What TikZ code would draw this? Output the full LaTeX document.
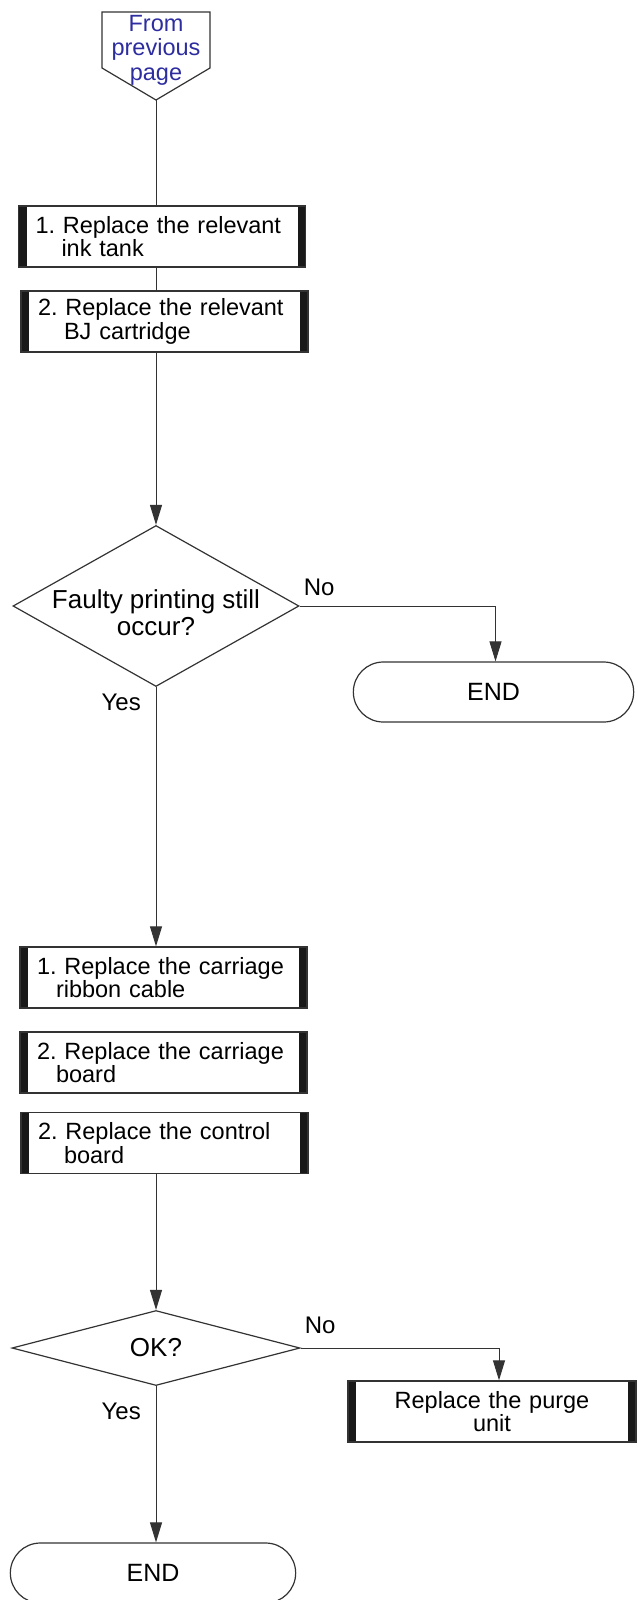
\documentclass[tikz,border=0pt]{standalone}
\usepackage{fontspec}
\setmainfont{Liberation Sans}
\frenchspacing
\definecolor{prevblue}{RGB}{45,45,160}
\usetikzlibrary{arrows.meta,positioning,shapes.geometric,shapes.misc}

\begin{document}
\begin{tikzpicture}[x=1pt,y=-1pt,>={Triangle[length=20pt,width=12pt]},
  line/.style={draw=black!80,line width=1pt},
  procbox/.style={draw=black!80,line width=1.3pt,minimum width=287pt,minimum height=61pt,
        text width=253pt,inner xsep=17pt,align=left,font=\fontsize{23.5}{23.5}\selectfont,
        path picture={\fill[black!90] (path picture bounding box.north west) rectangle ([xshift=8pt]path picture bounding box.south west);
                      \fill[black!90] (path picture bounding box.north east) rectangle ([xshift=-8pt]path picture bounding box.south east);}},
  decision/.style={diamond,draw=black!80,line width=1.2pt,inner sep=0pt,align=center,font=\fontsize{26}{27}\selectfont},
  terminal/.style={rounded rectangle,draw=black!80,line width=1.2pt,minimum height=60pt,font=\fontsize{25}{25}\selectfont},
  lbl/.style={inner sep=0pt,font=\fontsize{24}{24}\selectfont}]
  \useasboundingbox (0,0) rectangle (637,1600);

  \node[align=center,inner sep=0pt,text=prevblue,font=\fontsize{23.5}{24.5}\selectfont]
        (prev) at (156,50) {From\\previous\\page};
  \draw[draw=black!80,line width=1.2pt] (102,12) -- (210,12) -- (210,68) -- (156,100) coordinate (prevtip) -- (102,68) -- cycle;

  \node[procbox] (tank) at (162,236.5) {1. Replace the relevant\\\hspace*{26pt}ink tank};
  \node[procbox] (cart) at (164.5,321.5) {2. Replace the relevant\\\hspace*{26pt}BJ cartridge};

  \node[decision,aspect=1.8,minimum width=286pt,minimum height=161pt]
        (faulty) at (156,606) {\rule{0pt}{32pt}\makebox[150pt]{Faulty printing still}\\occur?};
  \node[terminal,minimum width=287pt] (end1) at (493.5,692) {END};
  \node[lbl,above right=10.4pt and 4pt of faulty.east] (no1) {No};
  \node[lbl,below left=7pt and 15pt of faulty.south] (yes1) {Yes};

  \node[procbox] (ribbon) at (163.5,977.5) {1. Replace the carriage\\\hspace*{19pt}ribbon cable};
  \node[procbox] (cboard) at (163.5,1062.5) {2. Replace the carriage\\\hspace*{19pt}board};
  \node[procbox] (ctrl) at (164.5,1143) {2. Replace the control\\\hspace*{26pt}board};

  \node[decision,minimum width=288pt,minimum height=75pt] (ok) at (156,1348) {OK?};
  \node[procbox,align=center,minimum width=288pt] (purge) at (492,1411.5) {Replace the purge\\unit};
  \node[terminal,minimum width=292pt] (end2) at (153,1573) {END};
  \node[lbl,above right=14.5pt and 4pt of ok.east] (no2) {No};
  \node[lbl,below left=17pt and 15pt of ok.south] (yes2) {Yes};

  \draw[line] (prevtip) -- (prevtip |- tank.north);
  \draw[line] (tank.south -| prevtip) -- (cart.north -| prevtip);
  \draw[line,->] (cart.south -| faulty) -- (faulty.north);
  \draw[line,->] (faulty.east) -| ([xshift=2pt]end1.north);
  \draw[line,->] (faulty.south) -- (faulty.south |- ribbon.north);
  \draw[line,->] (ctrl.south -| ok) -- (ok.north);
  \draw[line,->] (ok.east) -| ([xshift=7pt]purge.north);
  \draw[line,->] (ok.south) -- (ok.south |- end2.north);
\end{tikzpicture}
\end{document}
